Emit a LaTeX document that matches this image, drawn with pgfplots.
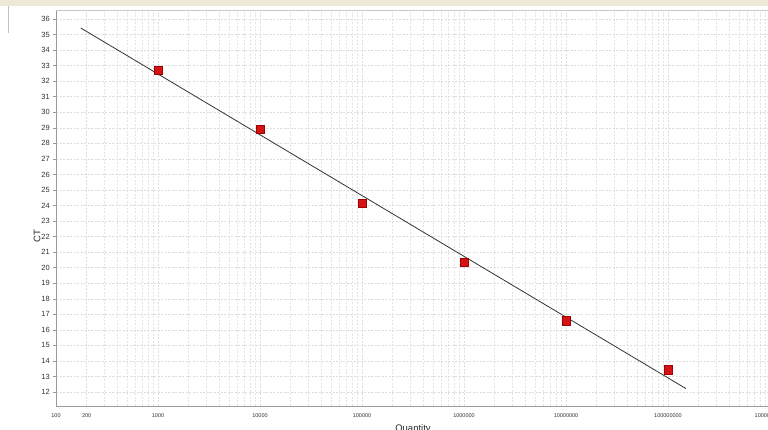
\documentclass[border=0pt]{standalone}
\usepackage{fontspec}
\setmainfont{Liberation Sans}
\usepackage{pgfplots}
\pgfplotsset{compat=1.18}
\definecolor{gridc}{HTML}{DDDDDD}
\definecolor{axc}{HTML}{9A9A9A}
\definecolor{mk}{HTML}{D41414}
\definecolor{mkd}{HTML}{A00000}
\definecolor{bandc}{HTML}{ECE9D8}
\begin{document}
\begin{tikzpicture}[x=1pt,y=1pt]
\useasboundingbox (0,0) rectangle (768,430);
\fill[bandc] (0,424) rectangle (768,430);
\draw[axc!60, line width=0.8pt] (8,397) -- (8,424);
\begin{axis}[
  at={(56pt,24pt)}, anchor=south west,
  scale only axis, width=714pt, height=396pt,
  xmode=log, xmin=100, xmax=1e9,
  ymin=11.1, ymax=36.58,
  xtick={100,200,1000,10000,100000,1000000,10000000,100000000,1000000000},
  xticklabels={100,200,1000,10000,100000,1000000,10000000,100000000,1000000000},
  minor xtick={300,400,500,600,700,800,900,2000,3000,4000,5000,6000,7000,8000,9000,20000,30000,40000,50000,60000,70000,80000,90000,200000,300000,400000,500000,600000,700000,800000,900000,2000000,3000000,4000000,5000000,6000000,7000000,8000000,9000000,20000000,30000000,40000000,50000000,60000000,70000000,80000000,90000000,200000000,300000000,400000000,500000000,600000000,700000000,800000000,900000000},
  ytick={12,13,...,36},
  grid=both,
  major grid style={gridc, dash pattern=on 2pt off 1.5pt, line width=0.45pt},
  minor grid style={gridc!80, dash pattern=on 2pt off 1.5pt, line width=0.45pt},
  axis x line*=bottom, axis y line*=left,
  axis line style={axc, line width=0.8pt},
  x axis line style={-}, y axis line style={-},
  xtick style={draw=none}, minor tick style={draw=none},
  ytick style={axc, line width=0.5pt},
  tick align=outside, major tick length=3pt,
  /pgf/number format/assume math mode=true,
  yticklabel style={font=\fontsize{7.5}{8}\selectfont, inner sep=0pt, xshift=-3pt, text=black!80},
  xticklabel style={font=\fontsize{5.5}{6}\selectfont, inner sep=0pt, yshift=-4pt, text=black!80},
  xlabel={Quantity},
  xlabel style={at={(axis description cs:0.5,0)}, anchor=north, inner sep=0pt, yshift=-18pt, font=\fontsize{9.5}{10}\selectfont, text=black!85},
  ylabel={CT},
  ylabel style={at={(axis description cs:-0.0266,0.43)}, anchor=center, inner sep=0pt, font=\fontsize{9.5}{10}\selectfont, text=black!85},
]
\draw[gridc!90!black, line width=0.6pt] (rel axis cs:0,1) -- (rel axis cs:1,1);
\addplot[no marks, color=black!80, line width=0.8pt] coordinates {(175,35.42) (1.5e8,12.22)};
\addplot[only marks, mark=square*, mark size=4.3pt, mark options={fill=mk, draw=mkd, line width=0.4pt}] coordinates {
(1000,32.7) (10000,28.9) (100000,24.15) (1000000,20.35) (10000000,16.6) (100000000,13.45)};
\end{axis}
\end{tikzpicture}
\end{document}
